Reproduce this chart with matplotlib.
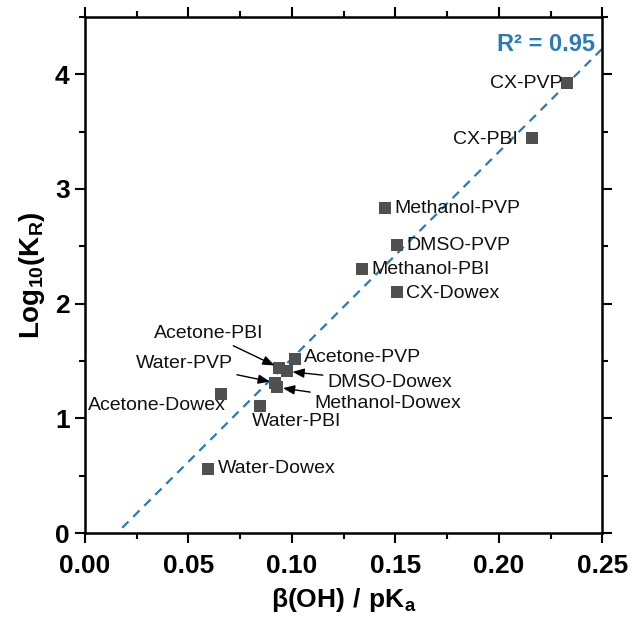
import matplotlib
matplotlib.use('Agg')
import matplotlib.pyplot as plt
from matplotlib.ticker import MultipleLocator, FuncFormatter
import numpy as np

plt.rcParams['font.family'] = ['Liberation Sans', 'DejaVu Sans']
plt.rcParams['mathtext.fontset'] = 'custom'
plt.rcParams['mathtext.rm'] = 'Liberation Sans'
plt.rcParams['mathtext.bf'] = 'Liberation Sans:bold'

# 体系名称与数据
names = ['CX-PVP', 'CX-PBI', 'Methanol-PVP', 'DMSO-PVP', 'Methanol-PBI',
         'CX-Dowex', 'Acetone-PVP', 'Acetone-PBI', 'DMSO-Dowex', 'Water-PVP',
         'Methanol-Dowex', 'Acetone-Dowex', 'Water-PBI', 'Water-Dowex']
beta_pka = [0.233, 0.216, 0.145, 0.151, 0.134,
            0.151, 0.1015, 0.094, 0.0976, 0.092,
            0.093, 0.0657, 0.0845, 0.0594]
log_kr = [3.92, 3.44, 2.83, 2.51, 2.30,
          2.10, 1.52, 1.44, 1.41, 1.31,
          1.27, 1.21, 1.11, 0.56]

# 拟合直线 (斜率, 截距) 及 R²
fit_slope = 18.0
fit_intercept = -0.278
fit_range = [0.018, 0.25]
r2_text = 'R² = 0.95'

# 标签偏移 (像素), 对齐方式, 是否带箭头
label_style = {
    'CX-PVP': (-5, 0, 'right', False),
    'CX-PBI': (-14, -1, 'right', False),
    'Methanol-PVP': (9, 0, 'left', False),
    'DMSO-PVP': (9, 0, 'left', False),
    'Methanol-PBI': (9, 0, 'left', False),
    'CX-Dowex': (9, -1, 'left', False),
    'Acetone-PVP': (9, 1, 'left', False),
    'Acetone-PBI': (-71, 34, 'center', True),
    'DMSO-Dowex': (40, -11, 'left', True),
    'Water-PVP': (-91, 19, 'center', True),
    'Methanol-Dowex': (37, -16, 'left', True),
    'Acetone-Dowex': (-64, -11, 'center', False),
    'Water-PBI': (-8, -16, 'left', False),
    'Water-Dowex': (10, 0, 'left', False),
}

blue = '#2a7ab8'

fig = plt.figure(figsize=(6.34, 6.22), dpi=100)
ax = fig.add_axes([0.134, 0.143, 0.816, 0.830])

xf = np.array(fit_range)
ax.plot(xf, fit_slope * xf + fit_intercept, ls=(0, (4, 3)), color=blue, lw=1.6, zorder=1)

ax.scatter(beta_pka, log_kr, marker='s', s=75, color='#505050', zorder=3, linewidths=0)

px = 0.72
for name, x, y in zip(names, beta_pka, log_kr):
    dx, dy, ha, arrow = label_style[name]
    kw = dict(xy=(x, y), xytext=(dx * px, dy * px), textcoords='offset points',
              ha=ha, va='center', fontsize=14, color='#111111', zorder=4)
    if arrow:
        kw['arrowprops'] = dict(arrowstyle='-|>,head_length=0.5,head_width=0.2',
                                color='black', lw=1.0, shrinkA=1, shrinkB=4)
    ax.annotate(name, **kw)

ax.text(0.2465, 4.26, r2_text, color=blue, fontsize=17, fontweight='bold',
        ha='right', va='center')

ax.set_xlim(0, 0.25)
ax.set_ylim(0, 4.5)
ax.xaxis.set_major_locator(MultipleLocator(0.05))
ax.xaxis.set_minor_locator(MultipleLocator(0.025))
ax.yaxis.set_major_locator(MultipleLocator(1))
ax.yaxis.set_minor_locator(MultipleLocator(0.5))
ax.xaxis.set_major_formatter(FuncFormatter(lambda v, p: f'{v:.2f}'))

ax.tick_params(which='both', direction='out', top=True, right=True, width=1.5)
ax.tick_params(which='major', length=7, labelsize=19)
ax.tick_params(axis='x', which='major', pad=8)
ax.tick_params(axis='y', which='major', pad=4)
ax.tick_params(which='minor', length=4)
for lab in ax.get_xticklabels() + ax.get_yticklabels():
    lab.set_fontweight('bold')
for sp in ax.spines.values():
    sp.set_linewidth(1.8)

ax.set_xlabel(r'$\mathbf{\beta(OH)\ /\ pK_a}$', fontsize=19, labelpad=6)
ax.set_ylabel(r'$\mathbf{Log_{10}(K_R)}$', fontsize=20, labelpad=6)

fig.savefig('out.png', dpi=100)
